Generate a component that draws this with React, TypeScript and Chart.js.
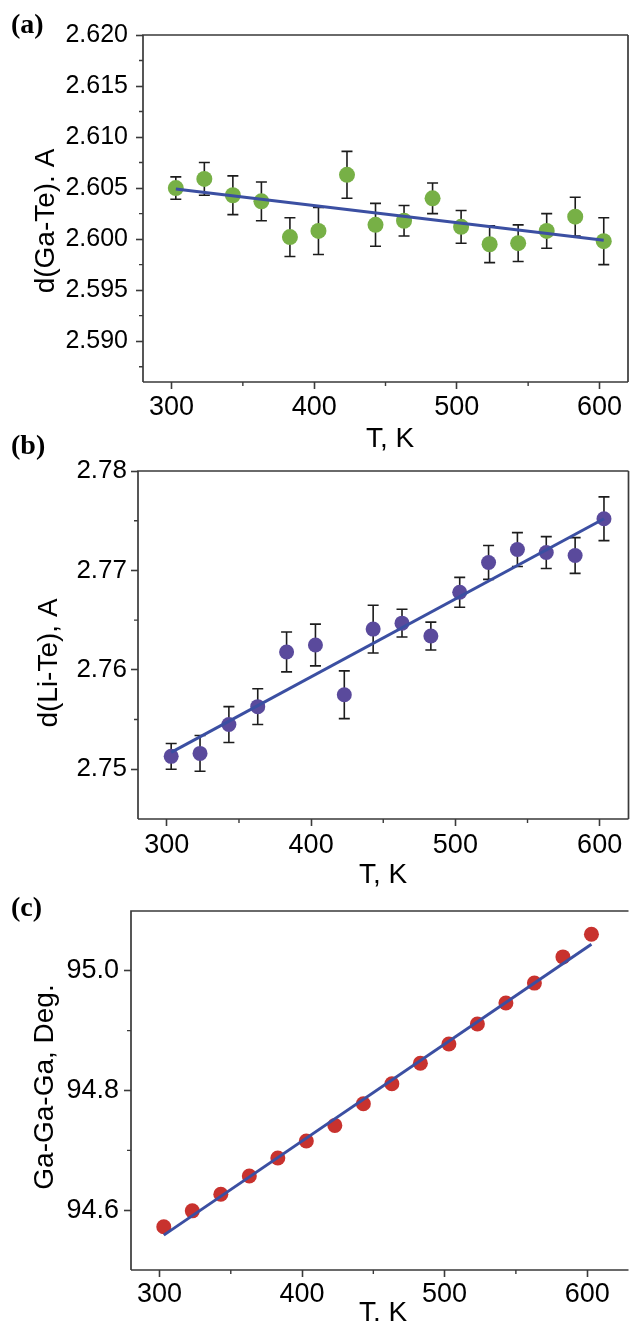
import React, { useEffect, useRef } from 'react';
import { Chart, registerables } from 'chart.js';

Chart.register(...registerables);

// ---------- data ----------
const temperatures = [303, 323, 343, 363, 383, 403, 423, 443, 463, 483, 503, 523, 543, 563, 583, 603];
const xTickValues = [300, 400, 500, 600];
const xMinorTicks = [350, 450, 550];

const gaTeDist = [2.6050, 2.6059, 2.6043, 2.6037, 2.6002, 2.6008, 2.6063, 2.6014, 2.6018, 2.6040, 2.6012, 2.5995, 2.5996, 2.6008, 2.6022, 2.5998];
const gaTeErr = [0.0011, 0.0016, 0.0019, 0.0019, 0.0019, 0.0023, 0.0023, 0.0021, 0.0015, 0.0015, 0.0016, 0.0018, 0.0018, 0.0017, 0.0019, 0.0023];
const gaTeFitT = [303, 603];
const gaTeFit = [2.6049, 2.5999];
const gaTeTicks = [2.590, 2.595, 2.600, 2.605, 2.610, 2.615, 2.620];
const gaTeMinor = [2.5875, 2.5925, 2.5975, 2.6025, 2.6075, 2.6125, 2.6175];

const liTeDist = [2.7513, 2.7516, 2.7545, 2.7563, 2.7618, 2.7625, 2.7575, 2.7641, 2.7647, 2.7634, 2.7678, 2.7708, 2.7721, 2.7718, 2.7715, 2.7752];
const liTeErr = [0.0013, 0.0018, 0.0018, 0.0018, 0.0020, 0.0021, 0.0024, 0.0024, 0.0014, 0.0014, 0.0015, 0.0017, 0.0017, 0.0016, 0.0018, 0.0022];
const liTeFitT = [303, 603];
const liTeFit = [2.7517, 2.7752];
const liTeTicks = [2.75, 2.76, 2.77, 2.78];
const liTeMinor = [2.755, 2.765, 2.775];

const gaAngle = [94.5722, 94.5989, 94.6267, 94.6572, 94.6872, 94.7155, 94.7417, 94.7778, 94.8112, 94.8455, 94.8778, 94.9112, 94.9462, 94.9795, 95.0233, 95.0612];
const gaAngleFitT = [303, 603];
const gaAngleFit = [94.5583, 95.0445];
const gaAngleTicks = [94.6, 94.8, 95.0];
const gaAngleMinor = [94.7, 94.9];

// ---------- styles ----------
const FONT = "'Liberation Sans', Arial, Helvetica, sans-serif";
const SERIF = "'Liberation Serif', 'Times New Roman', serif";
const AXIS = '#3a3a3a';
const FIT = '#3b4fa2';
const W = 636;

type PanelCfg = {
  label: string; yTitle: string; xTitle: string;
  values: number[]; err: number[] | null; fitT: number[]; fit: number[];
  yTicks: number[]; yMinor: number[]; yDecimals: number;
  xMin: number; xMax: number; yMin: number; yMax: number;
  color: string; r: number;
  canvasTop: number; canvasH: number;
  plotLeft: number; plotTop: number; plotRight: number; plotBottom: number;
  yFont: number; yPad: number; xPad: number;
  labelPos: [number, number]; yTitlePos: [number, number]; xTitlePos: [number, number];
  rightBorder: boolean;
};

const panels: PanelCfg[] = [
  {
    label: '(a)', yTitle: 'd(Ga-Te). A', xTitle: 'T, K',
    values: gaTeDist, err: gaTeErr, fitT: gaTeFitT, fit: gaTeFit,
    yTicks: gaTeTicks, yMinor: gaTeMinor, yDecimals: 3,
    xMin: 280, xMax: 620, yMin: 2.586, yMax: 2.620,
    color: '#77b046', r: 8,
    canvasTop: 0, canvasH: 460,
    plotLeft: 143, plotTop: 35, plotRight: 635, plotBottom: 382,
    yFont: 25, yPad: 8, xPad: 2,
    labelPos: [11, 33], yTitlePos: [53.5, 221], xTitlePos: [390, 447],
    rightBorder: true,
  },
  {
    label: '(b)', yTitle: 'd(Li-Te), A', xTitle: 'T, K',
    values: liTeDist, err: liTeErr, fitT: liTeFitT, fit: liTeFit,
    yTicks: liTeTicks, yMinor: liTeMinor, yDecimals: 2,
    xMin: 280, xMax: 620, yMin: 2.745, yMax: 2.78,
    color: '#5a4a9c', r: 7.5,
    canvasTop: 425, canvasH: 465,
    plotLeft: 138, plotTop: 471, plotRight: 636, plotBottom: 819,
    yFont: 26, yPad: 4, xPad: 3,
    labelPos: [11, 454], yTitlePos: [57, 663], xTitlePos: [383, 883],
    rightBorder: true,
  },
  {
    label: '(c)', yTitle: 'Ga-Ga-Ga, Deg.', xTitle: 'T. K',
    values: gaAngle, err: null, fitT: gaAngleFitT, fit: gaAngleFit,
    yTicks: gaAngleTicks, yMinor: gaAngleMinor, yDecimals: 1,
    xMin: 280, xMax: 629, yMin: 94.5, yMax: 95.1,
    color: '#c8322e', r: 7.5,
    canvasTop: 850, canvasH: 473,
    plotLeft: 131, plotTop: 911, plotRight: 636, plotBottom: 1270,
    yFont: 27, yPad: 5, xPad: 1,
    labelPos: [11, 916], yTitlePos: [53, 1087], xTitlePos: [383, 1321],
    rightBorder: false,
  },
];

function makeDecor(p: PanelCfg) {
  const off = p.canvasTop;
  return {
    id: 'decor' + p.label,
    beforeDatasetsDraw(chart: any) {
      if (!p.err) return;
      const { ctx } = chart;
      const xs = chart.scales.x, ys = chart.scales.y;
      ctx.save();
      ctx.strokeStyle = '#1c1c1c';
      ctx.lineWidth = 1.6;
      temperatures.forEach((t, i) => {
        const px = xs.getPixelForValue(t);
        const y1 = ys.getPixelForValue(p.values[i] + p.err![i]);
        const y2 = ys.getPixelForValue(p.values[i] - p.err![i]);
        ctx.beginPath();
        ctx.moveTo(px, y1); ctx.lineTo(px, y2);
        ctx.moveTo(px - 5.5, y1); ctx.lineTo(px + 5.5, y1);
        ctx.moveTo(px - 5.5, y2); ctx.lineTo(px + 5.5, y2);
        ctx.stroke();
      });
      ctx.restore();
    },
    afterDraw(chart: any) {
      const { ctx, chartArea: a } = chart;
      const xs = chart.scales.x, ys = chart.scales.y;
      ctx.save();
      ctx.strokeStyle = AXIS;
      ctx.lineWidth = 1.7;
      ctx.beginPath();
      ctx.moveTo(a.left, a.bottom); ctx.lineTo(a.left, a.top); ctx.lineTo(a.right, a.top);
      ctx.moveTo(a.left, a.bottom); ctx.lineTo(a.right, a.bottom);
      if (p.rightBorder) { ctx.moveTo(a.right, a.top); ctx.lineTo(a.right, a.bottom); }
      ctx.stroke();
      // minor ticks
      ctx.lineWidth = 1.4;
      ctx.beginPath();
      xMinorTicks.forEach((v) => {
        const px = xs.getPixelForValue(v);
        ctx.moveTo(px, a.bottom); ctx.lineTo(px, a.bottom + 4);
      });
      p.yMinor.forEach((v) => {
        const py = ys.getPixelForValue(v);
        ctx.moveTo(a.left - 4, py); ctx.lineTo(a.left, py);
      });
      ctx.stroke();
      // texts
      ctx.fillStyle = '#000';
      ctx.textBaseline = 'alphabetic';
      ctx.font = `bold 28px ${SERIF}`;
      ctx.textAlign = 'left';
      ctx.fillText(p.label, p.labelPos[0], p.labelPos[1] - off);
      ctx.font = `28px ${FONT}`;
      ctx.textAlign = 'center';
      ctx.fillText(p.xTitle, p.xTitlePos[0], p.xTitlePos[1] - off);
      ctx.save();
      ctx.translate(p.yTitlePos[0], p.yTitlePos[1] - off);
      ctx.rotate(-Math.PI / 2);
      ctx.fillText(p.yTitle, 0, 0);
      ctx.restore();
      ctx.restore();
    },
  };
}

function buildConfig(p: PanelCfg): any {
  const localTop = p.plotTop - p.canvasTop;
  const localBottom = p.plotBottom - p.canvasTop;
  return {
    type: 'scatter',
    data: {
      datasets: [
        {
          type: 'line',
          data: p.fitT.map((t, i) => ({ x: t, y: p.fit[i] })),
          borderColor: FIT,
          borderWidth: 3,
          pointRadius: 0,
          showLine: true,
          fill: false,
          order: 0,
        },
        {
          type: 'scatter',
          data: temperatures.map((t, i) => ({ x: t, y: p.values[i] })),
          backgroundColor: p.color,
          borderWidth: 0,
          pointRadius: p.r,
          order: 1,
        },
      ],
    },
    options: {
      responsive: false,
      animation: false,
      devicePixelRatio: 1,
      events: [],
      layout: { padding: { left: 0, top: localTop, right: W - p.plotRight, bottom: 0 } },
      plugins: { legend: { display: false }, tooltip: { enabled: false } },
      scales: {
        x: {
          type: 'linear',
          position: 'bottom',
          min: p.xMin,
          max: p.xMax,
          afterBuildTicks: (s: any) => { s.ticks = xTickValues.map((v) => ({ value: v })); },
          afterFit: (s: any) => { s.height = p.canvasH - localBottom; },
          ticks: {
            callback: (v: any) => String(v),
            font: { family: FONT, size: 27 },
            color: '#000',
            padding: p.xPad,
            maxRotation: 0,
            autoSkip: false,
          },
          grid: { drawOnChartArea: false, drawTicks: true, tickLength: 7, tickColor: AXIS, tickWidth: 1.6 },
          border: { display: false },
        },
        y: {
          type: 'linear',
          position: 'left',
          min: p.yMin,
          max: p.yMax,
          afterBuildTicks: (s: any) => { s.ticks = p.yTicks.map((v) => ({ value: v })); },
          afterFit: (s: any) => { s.width = p.plotLeft; },
          ticks: {
            callback: (v: any) => Number(v).toFixed(p.yDecimals),
            font: { family: FONT, size: p.yFont },
            color: '#000',
            padding: p.yPad,
            autoSkip: false,
          },
          grid: { drawOnChartArea: false, drawTicks: true, tickLength: 7, tickColor: AXIS, tickWidth: 1.6 },
          border: { display: false },
        },
      },
    },
    plugins: [makeDecor(p)],
  };
}

function Panel({ cfg }: { cfg: PanelCfg }) {
  const ref = useRef<HTMLCanvasElement>(null);
  useEffect(() => {
    if (!ref.current) return;
    const chart = new Chart(ref.current, buildConfig(cfg));
    return () => chart.destroy();
  }, [cfg]);
  return (
    <canvas
      ref={ref}
      width={W}
      height={cfg.canvasH}
      style={{ position: 'absolute', left: 0, top: cfg.canvasTop, width: W, height: cfg.canvasH }}
    />
  );
}

export default function App() {
  useEffect(() => {
    document.body.style.overflow = 'hidden';
  }, []);
  return (
    <div style={{ position: 'absolute', left: 0, top: 0, width: W, height: 1323, background: '#fff', overflow: 'hidden' }}>
      {panels.map((p) => (
        <Panel key={p.label} cfg={p} />
      ))}
    </div>
  );
}
